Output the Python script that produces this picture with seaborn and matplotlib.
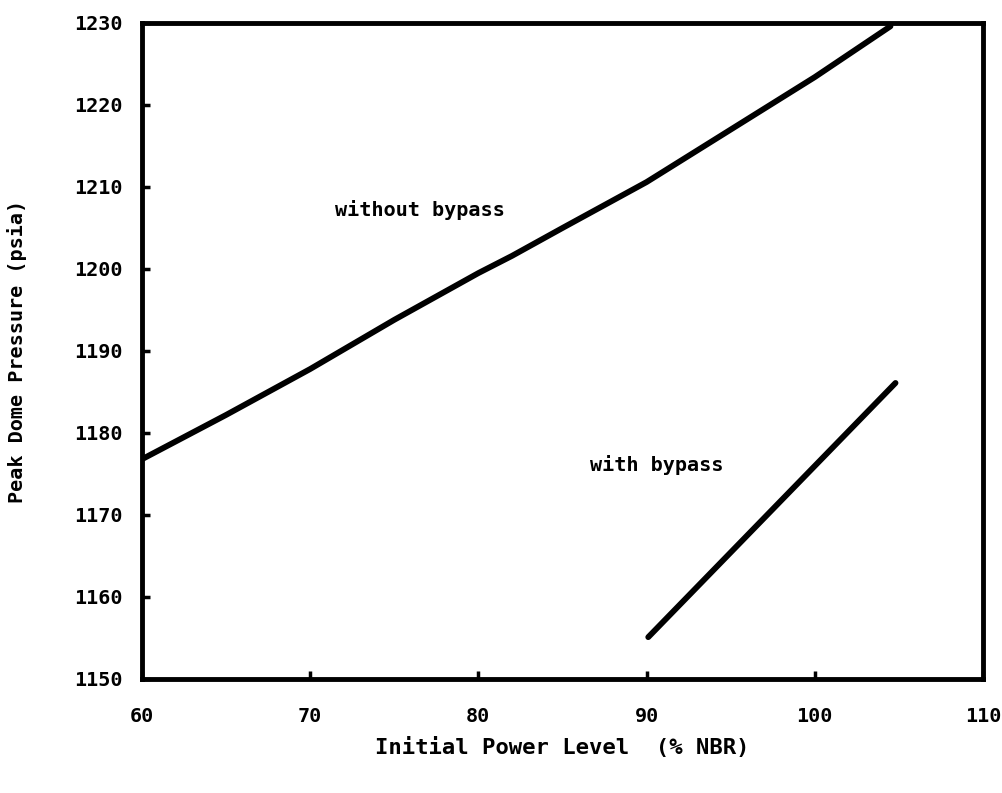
import pandas as pd
import numpy as np
import matplotlib
matplotlib.use("Agg")
import matplotlib.pyplot as plt
import seaborn as sns

# values
power_without = [60, 65, 70, 75, 80, 82, 85, 90, 95, 100, 104.5]
pressure_without = [1176.8, 1182.2, 1187.8, 1193.8, 1199.5, 1201.6, 1205.0, 1210.6, 1217.0, 1223.4, 1229.6]
power_with = [90.1, 104.8]
pressure_with = [1155.1, 1186.1]
x_ticks = [60, 70, 80, 90, 100, 110]
y_ticks = [1150, 1160, 1170, 1180, 1190, 1200, 1210, 1220, 1230]

df_without = pd.DataFrame({"power": power_without, "pressure": pressure_without})
df_with = pd.DataFrame({"power": power_with, "pressure": pressure_with})

sns.set_style("ticks")
plt.rcParams['font.family'] = ['DejaVu Sans Mono']
plt.rcParams['font.weight'] = 'bold'
plt.rcParams['text.color'] = 'black'
plt.rcParams['axes.labelcolor'] = 'black'
plt.rcParams['xtick.color'] = 'black'
plt.rcParams['ytick.color'] = 'black'

fig = plt.figure(figsize=(10.02, 7.93), dpi=100)
ax = fig.add_axes([0.1417, 0.1438, 0.8393, 0.8272])

sns.lineplot(data=df_without, x="power", y="pressure", ax=ax, color="black", linewidth=4.2)
sns.lineplot(data=df_with, x="power", y="pressure", ax=ax, color="black", linewidth=4.2,
             solid_capstyle="round")

ax.set_xlim(60, 110)
ax.set_ylim(1150, 1230)
ax.set_xticks(x_ticks)
ax.set_yticks(y_ticks)
ax.tick_params(direction="in", length=6, width=2.5, labelsize=14.5)
ax.tick_params(axis="x", pad=20)
ax.tick_params(axis="y", pad=14)
for lab in ax.get_xticklabels() + ax.get_yticklabels():
    lab.set_fontweight("bold")
for s in ax.spines.values():
    s.set_linewidth(3.5)
    s.set_color("black")

ax.text(76.5, 1207.2, "without bypass", ha="center", va="center", fontsize=14.5, fontweight="bold")
ax.text(90.6, 1176.1, "with bypass", ha="center", va="center", fontsize=14.5, fontweight="bold")

ax.set_xlabel("Initial Power Level  (% NBR)", fontsize=16, fontweight="bold", labelpad=8)
ax.set_ylabel("Peak Dome Pressure (psia)", fontsize=14.5, fontweight="bold", labelpad=34)

fig.savefig("out.png", dpi=100)
